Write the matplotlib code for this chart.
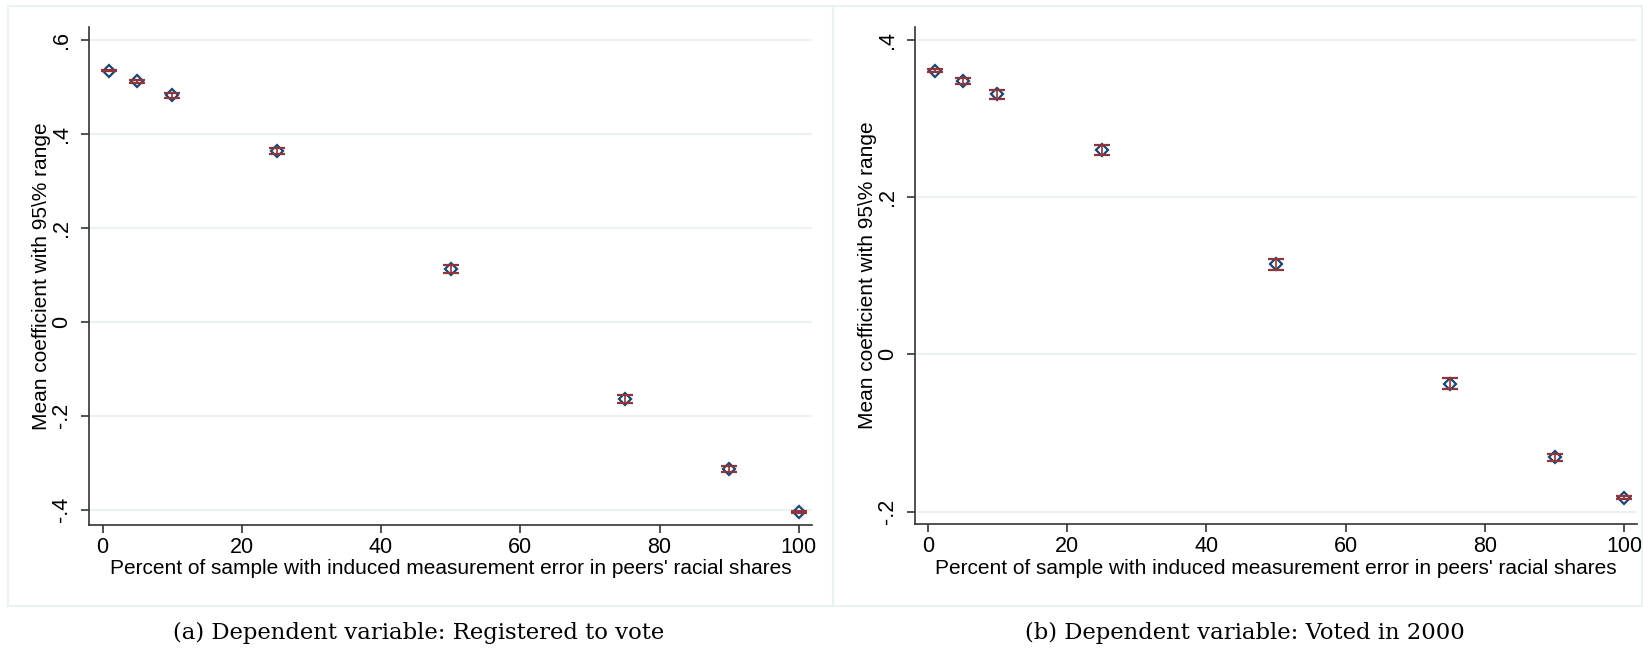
import matplotlib.pyplot as plt
from matplotlib.patches import Rectangle

# share of sample with induced measurement error (%)
pct_error = [1, 5, 10, 25, 50, 75, 90, 100]

# (a) registered to vote
reg_mean = [0.535, 0.512, 0.482, 0.364, 0.112, -0.164, -0.314, -0.404]
reg_half = [0.002, 0.003, 0.005, 0.007, 0.0085, 0.009, 0.006, 0.002]

# (b) voted in 2000
vote_mean = [0.361, 0.348, 0.331, 0.260, 0.115, -0.037, -0.131, -0.182]
vote_half = [0.002, 0.004, 0.0055, 0.006, 0.007, 0.0065, 0.0045, 0.002]

reg_yticks = [-0.4, -0.2, 0, 0.2, 0.4, 0.6]
reg_ylabels = ["-.4", "-.2", "0", ".2", ".4", ".6"]
vote_yticks = [-0.2, 0, 0.2, 0.4]
vote_ylabels = ["-.2", "0", ".2", ".4"]
xticks = [0, 20, 40, 60, 80, 100]

captions = ["(a) Dependent variable: Registered to vote",
            "(b) Dependent variable: Voted in 2000"]

NAVY = "#1a476f"
RED = "#90353b"
GRID = "#eaf2f3"

plt.rcParams["font.family"] = ["Liberation Sans", "DejaVu Sans"]

W, H = 1643, 648
fig = plt.figure(figsize=(W / 100, H / 100), dpi=100)


def px_box(x0, y0, x1, y1):
    # pixel box (top-left origin) -> figure fraction rect
    return [x0 / W, 1 - y1 / H, (x1 - x0) / W, (y1 - y0) / H]


# light frames around each panel
for (x0, x1) in [(8, 832.5), (832.5, 1642)]:
    r = px_box(x0, 6, x1, 605.5)
    fig.patches.append(Rectangle((r[0], r[1]), r[2], r[3], transform=fig.transFigure,
                                 fill=False, edgecolor=GRID, linewidth=1.5))

panels = [
    (px_box(89, 27, 812, 524.5), reg_mean, reg_half, reg_yticks, reg_ylabels,
     (-0.4315, 0.6277), (-1.94, 101.9)),
    (px_box(914.5, 27, 1636.7, 524), vote_mean, vote_half, vote_yticks, vote_ylabels,
     (-0.2157, 0.4165), (-1.92, 101.8)),
]

for rect, mean, half, yt, yl, ylim, xlim in panels:
    ax = fig.add_axes(rect)
    ax.set_ylim(*ylim)
    ax.set_xlim(*xlim)
    ax.set_yticks(yt)
    ax.set_yticklabels(yl, rotation=90, va="center")
    ax.set_xticks(xticks)
    ax.grid(axis="y", color=GRID, linewidth=1.5)
    ax.set_axisbelow(True)
    for s in ["top", "right"]:
        ax.spines[s].set_visible(False)
    for s in ["left", "bottom"]:
        ax.spines[s].set_color("#333333")
        ax.spines[s].set_linewidth(1.2)
    ax.tick_params(axis="both", direction="out", length=6, width=1.2,
                   color="#333333", labelsize=15.5)
    ax.tick_params(axis="y", pad=6)
    ax.tick_params(axis="x", pad=3)

    ax.plot(pct_error, mean, linestyle="none", marker="D", markersize=6.5,
            markerfacecolor="white", markeredgecolor=NAVY, markeredgewidth=1.6, zorder=3)
    ax.errorbar(pct_error, mean, yerr=half, fmt="none", ecolor=RED,
                elinewidth=1.2, capsize=6, capthick=1.6, zorder=4)

    ax.set_xlabel("Percent of sample with induced measurement error in peers' racial shares",
                  fontsize=15, labelpad=1)
    ax.set_ylabel("Mean coefficient with 95\\% range", fontsize=15, labelpad=0)

for cap, cx in zip(captions, [419, 1245]):
    fig.text(cx / W, 1 - 633 / H, cap, ha="center", va="center",
             fontsize=16.4, family=["DejaVu Serif"])

fig.savefig("out.png", dpi=100)
